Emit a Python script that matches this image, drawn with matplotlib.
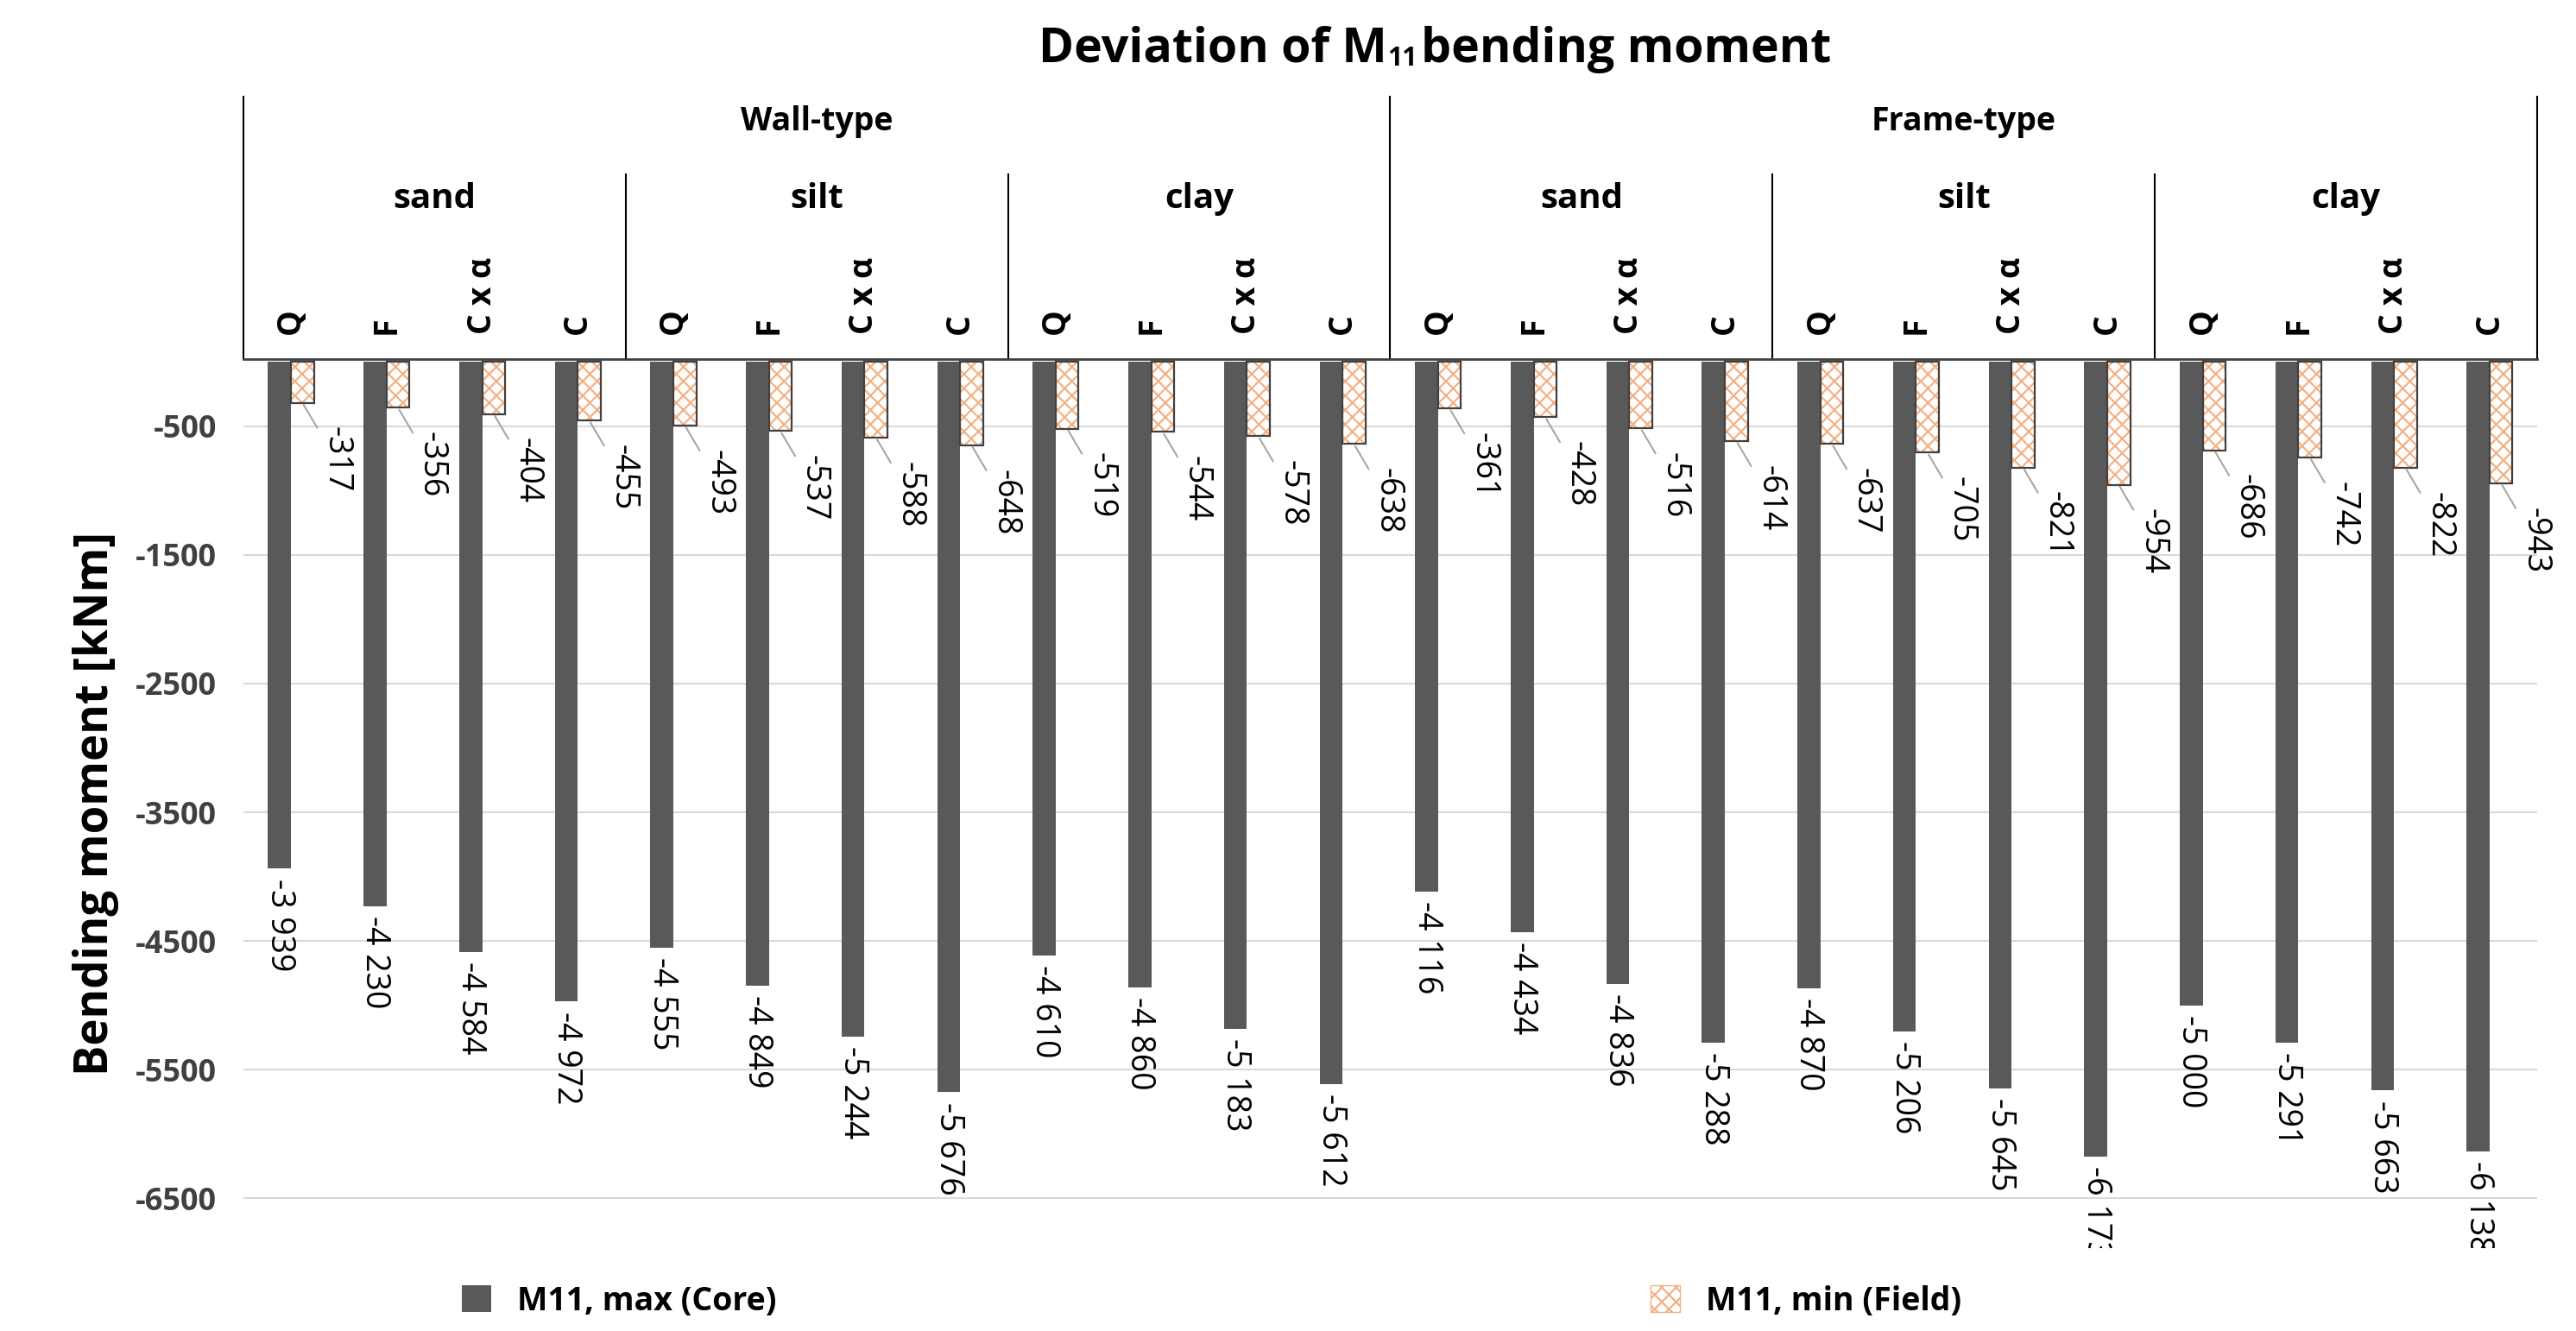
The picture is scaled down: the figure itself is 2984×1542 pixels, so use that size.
import matplotlib
matplotlib.use("Agg")
import matplotlib.pyplot as plt
import matplotlib.transforms as mtransforms
from matplotlib.patches import Patch

plt.rcParams['font.family'] = ['Open Sans', 'DejaVu Sans']
plt.rcParams['hatch.linewidth'] = 1.6

building_types = ["Wall-type", "Frame-type"]
soils = ["sand", "silt", "clay"]
methods = ["Q", "F", "C x α", "C"]
core = [-3939, -4230, -4584, -4972, -4555, -4849, -5244, -5676, -4610, -4860, -5183, -5612,
        -4116, -4434, -4836, -5288, -4870, -5206, -5645, -6173, -5000, -5291, -5663, -6138]
field = [-317, -356, -404, -455, -493, -537, -588, -648, -519, -544, -578, -638,
         -361, -428, -516, -614, -637, -705, -821, -954, -686, -742, -822, -943]
yticks = [-500, -1500, -2500, -3500, -4500, -5500, -6500]

HATCH_C = '#F4B183'

def fmt(v):
    return f"{v:,}".replace(",", " ")

fig = plt.figure(figsize=(29.84, 15.42), dpi=100)
ax = fig.add_axes([0.0944, 0.062, 0.8906, 0.668])
n = len(core)
xs = list(range(n))
w = 0.24
ax.bar([x - w/2 for x in xs], core, width=w, color='#595959', zorder=3)
ax.bar([x + w/2 for x in xs], field, width=w, facecolor='white', edgecolor=HATCH_C, linewidth=0,
       hatch='xx', zorder=3)
ax.bar([x + w/2 for x in xs], field, width=w, facecolor='none', edgecolor='#404040', linewidth=1.6,
       zorder=4)
ax.set_xlim(-0.5, n - 0.5)
ax.set_ylim(-6890, 20)
ax.set_yticks(yticks)
ax.set_yticklabels([str(t) for t in yticks], fontsize=26, fontweight='bold', color='#404040')
ax.tick_params(axis='y', length=0, pad=22)
ax.set_xticks([])
ax.grid(axis='y', color='#D9D9D9', linewidth=1.5, zorder=0)
for s in ['left', 'right', 'bottom']:
    ax.spines[s].set_visible(False)
ax.spines['top'].set_linewidth(2)
ax.spines['top'].set_color('#404040')
ax.set_ylabel("Bending moment [kNm]", fontsize=38, fontweight='bold', labelpad=14)

for x, v in zip(xs, core):
    a = ax.annotate(fmt(v), (x - w/2, v), xytext=(0, -8), textcoords='offset points',
                    rotation=270, ha='center', va='top', fontsize=27)
    a.set_clip_on(True)
    a.set_clip_box(ax.bbox)
for x, v in zip(xs, field):
    ax.annotate(fmt(v), (x + w/2, v), xytext=(28, -20), textcoords='offset points',
                rotation=270, ha='center', va='top', fontsize=27,
                arrowprops=dict(arrowstyle='-', color='#A6A6A6', lw=1.5, shrinkA=0, shrinkB=2))

tr = mtransforms.blended_transform_factory(ax.transData, ax.transAxes)
kw = dict(transform=tr, clip_on=False, color='black', lw=1.5)
for i in range(n):
    ax.text(i, 1.028, methods[i % 4], transform=tr, rotation=90, ha='center', va='bottom',
            fontsize=27, fontweight='bold')
for j in range(6):
    ax.text(j * 4 + 1.5, 1.18, soils[j % 3], transform=tr, ha='center', va='center',
            fontsize=29, fontweight='bold')
    if j % 3 != 0:
        ax.plot([j * 4 - 0.5] * 2, [1.0, 1.208], **kw)
for k in range(2):
    ax.text(k * 12 + 5.5, 1.267, building_types[k], transform=tr, ha='center', va='center',
            fontsize=27, fontweight='bold')
for xb in [-0.5, 11.5, 23.5]:
    ax.plot([xb] * 2, [1.0, 1.295], **kw)

t1 = fig.text(0.5385, 0.963, "Deviation of M", fontsize=40, fontweight='bold', ha='right', va='center')
fig.text(0.5385, 0.956, "11", fontsize=22, fontweight='bold', ha='left', va='center')
fig.text(0.5515, 0.963, "bending moment", fontsize=40, fontweight='bold', ha='left', va='center')

handles = [Patch(facecolor='#595959', label='M11, max (Core)'),
           Patch(facecolor='white', edgecolor=HATCH_C, hatch='xx', label='M11, min (Field)')]
leg = fig.legend(handles=handles, loc='lower left', bbox_to_anchor=(0.168, -0.012), ncol=2, frameon=False,
                 prop=dict(size=27, weight='bold'), columnspacing=27, handlelength=0.9, handleheight=0.9)

fig.savefig("out.png", dpi=100)
